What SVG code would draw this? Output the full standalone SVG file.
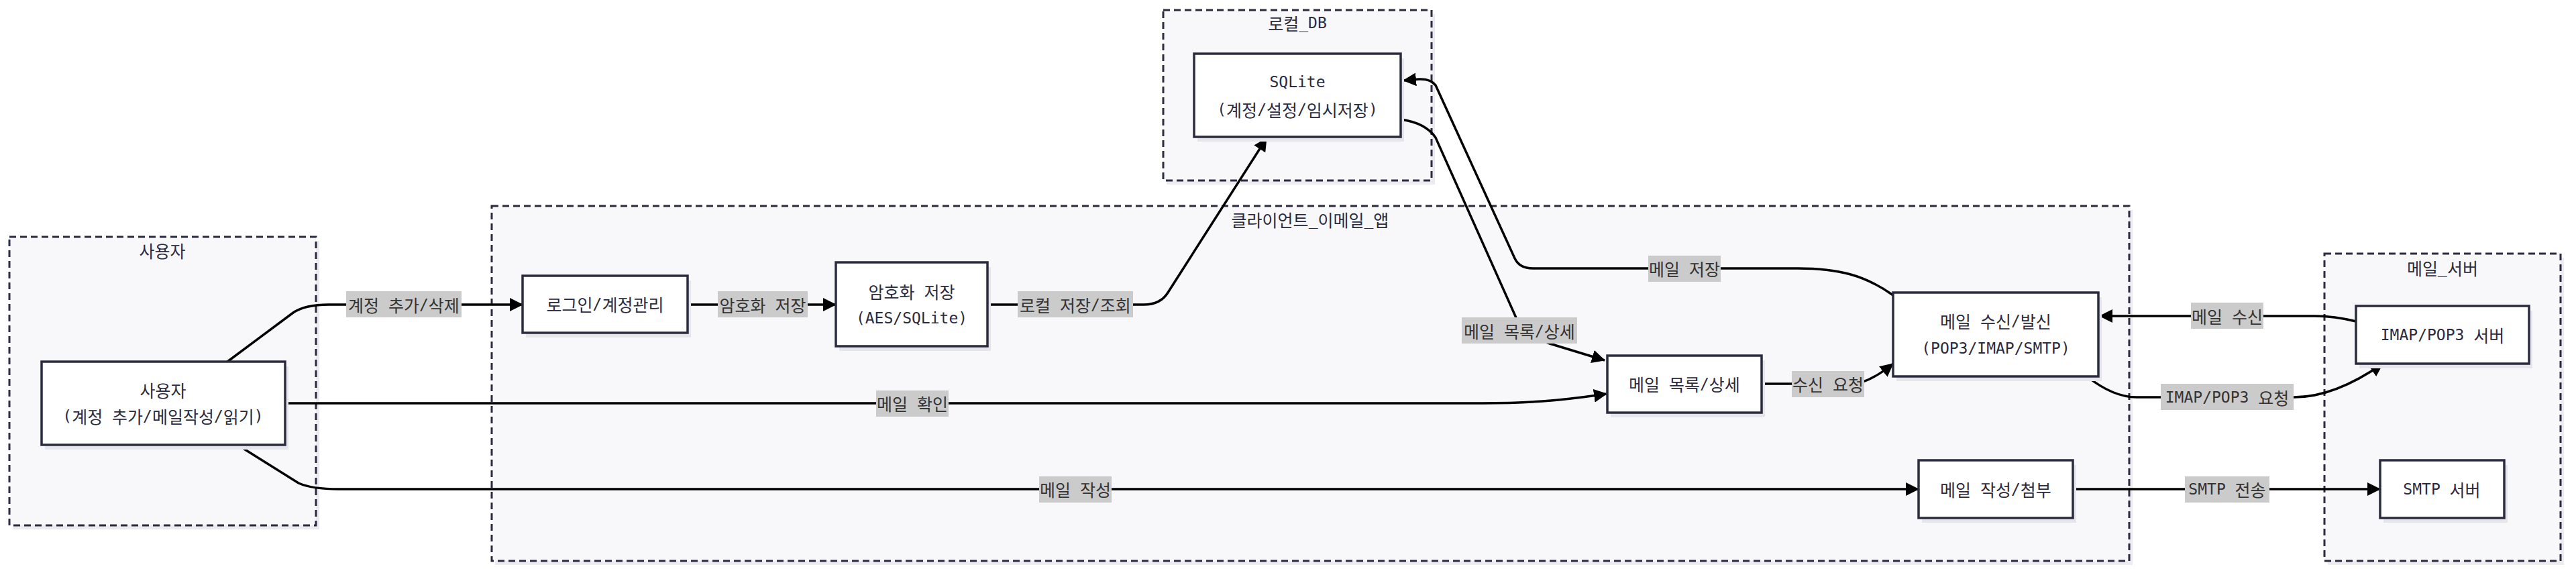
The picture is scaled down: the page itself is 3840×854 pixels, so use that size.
<svg xmlns="http://www.w3.org/2000/svg" width="3840" height="854" viewBox="0 0 3840 854">
<defs>
<marker id="arr" viewBox="0 0 20 20" refX="19" refY="10" markerWidth="20" markerHeight="20" markerUnits="userSpaceOnUse" orient="auto">
<path d="M0,0 L20,10 L0,20 z" fill="#000"/>
</marker>
<style>
text{font-family:"DejaVu Sans Mono","Noto Sans CJK KR",monospace;font-size:23px;fill:#2b2b3f;text-anchor:middle;dominant-baseline:central}
.k{font-family:"Noto Sans CJK KR","Noto Sans CJK SC",sans-serif;font-size:25px}
.cl{fill:#f8f8fa;stroke:#2b2b3f;stroke-width:3;stroke-dasharray:10 6}
.cls{fill:#ececf0}
.nd{fill:#fff;stroke:#2b2b3f;stroke-width:3.5}
.sh{fill:#e6e6ea}
.e{fill:none;stroke:#000;stroke-width:3.5;marker-end:url(#arr)}
.lb{fill:#cbcbcb}
.lt{fill:#333}
</style>
</defs>
<rect width="3840" height="854" fill="#fff"/>

<g id="cluster-user">
<rect class="cls" x="19" y="359" width="457" height="430"/>
<rect class="cl" x="14" y="353" width="457" height="430"/>
<text x="242" y="373"><tspan class="k">사용자</tspan></text>
</g>
<g id="cluster-client">
<rect class="cls" x="738" y="313" width="2441" height="529"/>
<rect class="cl" x="733" y="307" width="2441" height="529"/>
<text x="1953" y="327"><tspan class="k">클라이언트</tspan>_<tspan class="k">이메일</tspan>_<tspan class="k">앱</tspan></text>
</g>
<g id="cluster-db">
<rect class="cls" x="1739" y="21" width="400" height="254"/>
<rect class="cl" x="1734" y="15" width="400" height="254"/>
<text x="1934" y="34"><tspan class="k">로컬</tspan>_DB</text>
</g>
<g id="cluster-server">
<rect class="cls" x="3470" y="384" width="352" height="458"/>
<rect class="cl" x="3465" y="378" width="352" height="458"/>
<text x="3641" y="399"><tspan class="k">메일</tspan>_<tspan class="k">서버</tspan></text>
</g>

<g id="connectors">
<path class="e" d="M339,539 L437,466 Q455,454 490,454 L779,454"/>
<path class="e" d="M1025,454 L1246,454"/>
<path class="e" d="M1472,454 L1705,454 Q1730,454 1741,436 L1888,206"/>
<path class="e" d="M2088,178 Q2125,183 2140,205 L2262,478 Q2275,500 2310,512 L2392,537"/>
<path class="e" d="M2822,440 C2780,410 2740,400 2680,400 L2285,400 Q2265,400 2258,385 L2140,127 Q2132,117 2115,118 L2092,120"/>
<path class="e" d="M425,601 L2210,601 C2290,601 2340,595 2395,587"/>
<path class="e" d="M2626,572 L2760,572 Q2785,572 2822,542"/>
<path class="e" d="M354,663 L445,720 Q465,729 505,729 L2860,729"/>
<path class="e" d="M3512,479 Q3480,471 3450,471 L3130,471"/>
<path class="e" d="M3111,561 Q3150,592 3185,592 L3420,592 Q3480,592 3552,542"/>
<path class="e" d="M3090,729 L3548,729"/>

<rect class="lb" x="516" y="434" width="172" height="39"/><text class="lt" x="602" y="454"><tspan class="k">계정</tspan> <tspan class="k">추가</tspan>/<tspan class="k">삭제</tspan></text>
<rect class="lb" x="1070" y="434" width="134" height="39"/><text class="lt" x="1137" y="454"><tspan class="k">암호화</tspan> <tspan class="k">저장</tspan></text>
<rect class="lb" x="1517" y="434" width="172" height="39"/><text class="lt" x="1603" y="454"><tspan class="k">로컬</tspan> <tspan class="k">저장</tspan>/<tspan class="k">조회</tspan></text>
<rect class="lb" x="2179" y="473" width="172" height="39"/><text class="lt" x="2265" y="493"><tspan class="k">메일</tspan> <tspan class="k">목록</tspan>/<tspan class="k">상세</tspan></text>
<rect class="lb" x="2457" y="381" width="108" height="39"/><text class="lt" x="2511" y="400"><tspan class="k">메일</tspan> <tspan class="k">저장</tspan></text>
<rect class="lb" x="1306" y="582" width="108" height="39"/><text class="lt" x="1360" y="601"><tspan class="k">메일</tspan> <tspan class="k">확인</tspan></text>
<rect class="lb" x="2671" y="553" width="108" height="39"/><text class="lt" x="2725" y="572"><tspan class="k">수신</tspan> <tspan class="k">요청</tspan></text>
<rect class="lb" x="1549" y="710" width="108" height="39"/><text class="lt" x="1603" y="729"><tspan class="k">메일</tspan> <tspan class="k">작성</tspan></text>
<rect class="lb" x="3266" y="451" width="108" height="39"/><text class="lt" x="3320" y="471"><tspan class="k">메일</tspan> <tspan class="k">수신</tspan></text>
<rect class="lb" x="3221" y="572" width="198" height="39"/><text class="lt" x="3320" y="592">IMAP/POP3 <tspan class="k">요청</tspan></text>
<rect class="lb" x="3257" y="710" width="126" height="39"/><text class="lt" x="3320" y="729">SMTP <tspan class="k">전송</tspan></text>
</g>

<g id="node-user">
<rect class="sh" x="67" y="546" width="363" height="124"/>
<rect class="nd" x="62" y="539" width="363" height="124"/>
<text x="243" y="581"><tspan class="k">사용자</tspan></text>
<text x="243" y="620">(<tspan class="k">계정</tspan> <tspan class="k">추가</tspan>/<tspan class="k">메일작성</tspan>/<tspan class="k">읽기</tspan>)</text>
</g>
<g id="node-login">
<rect class="sh" x="784" y="418" width="246" height="85"/>
<rect class="nd" x="779" y="411" width="246" height="85"/>
<text x="902" y="453"><tspan class="k">로그인</tspan>/<tspan class="k">계정관리</tspan></text>
</g>
<g id="node-encrypt">
<rect class="sh" x="1251" y="398" width="226" height="125"/>
<rect class="nd" x="1246" y="391" width="226" height="125"/>
<text x="1359" y="434"><tspan class="k">암호화</tspan> <tspan class="k">저장</tspan></text>
<text x="1359" y="474">(AES/SQLite)</text>
</g>
<g id="node-sqlite">
<rect class="sh" x="1785" y="87" width="308" height="124"/>
<rect class="nd" x="1780" y="80" width="308" height="124"/>
<text x="1934" y="122">SQLite</text>
<text x="1934" y="163">(<tspan class="k">계정</tspan>/<tspan class="k">설정</tspan>/<tspan class="k">임시저장</tspan>)</text>
</g>
<g id="node-maillist">
<rect class="sh" x="2401" y="537" width="230" height="85"/>
<rect class="nd" x="2396" y="530" width="230" height="85"/>
<text x="2511" y="572"><tspan class="k">메일</tspan> <tspan class="k">목록</tspan>/<tspan class="k">상세</tspan></text>
</g>
<g id="node-mailio">
<rect class="sh" x="2827" y="443" width="306" height="125"/>
<rect class="nd" x="2822" y="436" width="306" height="125"/>
<text x="2975" y="478"><tspan class="k">메일</tspan> <tspan class="k">수신</tspan>/<tspan class="k">발신</tspan></text>
<text x="2975" y="519">(POP3/IMAP/SMTP)</text>
</g>
<g id="node-compose">
<rect class="sh" x="2865" y="693" width="230" height="86"/>
<rect class="nd" x="2860" y="686" width="230" height="86"/>
<text x="2975" y="729"><tspan class="k">메일</tspan> <tspan class="k">작성</tspan>/<tspan class="k">첨부</tspan></text>
</g>
<g id="node-imap">
<rect class="sh" x="3517" y="463" width="258" height="86"/>
<rect class="nd" x="3512" y="456" width="258" height="86"/>
<text x="3641" y="499">IMAP/POP3 <tspan class="k">서버</tspan></text>
</g>
<g id="node-smtp">
<rect class="sh" x="3553" y="693" width="185" height="86"/>
<rect class="nd" x="3548" y="686" width="185" height="86"/>
<text x="3640" y="729">SMTP <tspan class="k">서버</tspan></text>
</g>
</svg>
